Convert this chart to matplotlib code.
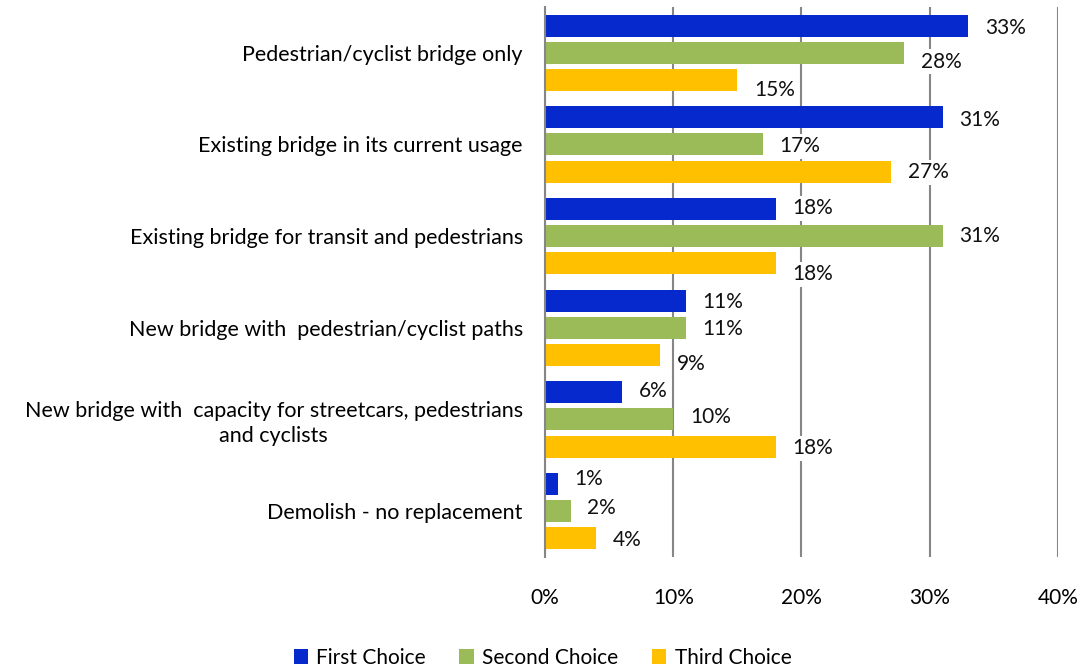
import numpy as np
import matplotlib
matplotlib.use("Agg")
import matplotlib.pyplot as plt

cats = ["Pedestrian/cyclist bridge only",
        "Existing bridge in its current usage",
        "Existing bridge for transit and pedestrians",
        "New bridge with  pedestrian/cyclist paths",
        "New bridge with  capacity for streetcars, pedestrians\nand cyclists",
        "Demolish - no replacement"]
first = [33, 31, 18, 11, 6, 1]
second = [28, 17, 31, 11, 10, 2]
third = [15, 27, 18, 9, 18, 4]
series = ["First Choice", "Second Choice", "Third Choice"]
colors = ["#0529CC", "#9BBB59", "#FFC000"]
# manual label nudges (in group units, + = down), like the hand-moved excel labels
nudge = [[0.02, 0.10, 0.11],
         [0.03, 0.02, 0.01],
         [-0.01, 0.0, 0.12],
         [0.01, 0.01, 0.10],
         [-0.02, -0.03, 0.02],
         [-0.06, -0.03, 0.02]]

plt.rcParams["font.family"] = ["Lato", "DejaVu Sans"]
fig = plt.figure(figsize=(10.85, 6.71), dpi=100)
ax = fig.add_axes([0.5023, 0.1699, 0.4728, 0.8197])
y = np.arange(len(cats))
step, h = 0.295, 0.24
for i, (vals, col, name) in enumerate(zip([first, second, third], colors, series)):
    yy = y + (i - 1) * step
    ax.barh(yy, vals, height=h, color=col, label=name, zorder=3)
    for j, v in enumerate(vals):
        ax.text(v + 1.3, yy[j] + nudge[j][i], f"{v}%", va="center", ha="left", fontsize=15,
                color="#111111", zorder=4,
                bbox=dict(boxstyle="square,pad=0.12", fc="white", ec="none"))

ax.set_xlim(0, 40)
ax.set_ylim(len(cats) - 0.5, -0.5)
ax.set_xticks(range(0, 41, 10))
ax.set_xticklabels([f"{t}%" for t in range(0, 41, 10)], fontsize=15)
ax.set_yticks(y)
ax.set_yticklabels(cats, fontsize=15.5, multialignment="center", linespacing=1.3)
ax.tick_params(axis="x", length=0, pad=22)
ax.tick_params(axis="y", length=0, pad=16)
ax.grid(axis="x", color="#868686", linewidth=1.5, zorder=0)
for s in ["top", "right", "bottom"]:
    ax.spines[s].set_visible(False)
ax.spines["left"].set_color("#868686")
ax.spines["left"].set_linewidth(1.5)
ax.spines["left"].set_zorder(5)

fig.legend(loc="center", bbox_to_anchor=(0.5, 0.02), ncol=3, frameon=False, fontsize=15,
           handlelength=0.7, handleheight=0.7, handletextpad=0.4, columnspacing=1.6)
fig.savefig("out.png", dpi=100)
